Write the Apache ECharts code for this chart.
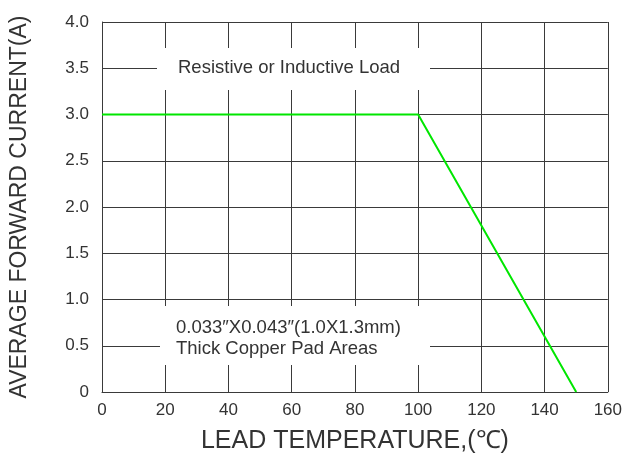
<!DOCTYPE html>
<html>
<head>
<meta charset="utf-8">
<script src="https://cdn.jsdelivr.net/npm/echarts@6/dist/echarts.min.js"></script>
<style>
  html, body { margin: 0; padding: 0; background: #fff; }
  #chart { width: 625px; height: 459px; }
</style>
</head>
<body>
<div id="chart"></div>
<script>
// derating curve: lead temperature (C) vs average forward current (A)
const temps = [0, 100, 150]
const currents = [3.0, 3.0, 0]
const xTicks = [0, 20, 40, 60, 80, 100, 120, 140, 160]
const yTicks = [0, 0.5, 1.0, 1.5, 2.0, 2.5, 3.0, 3.5, 4.0]

const font = 'Liberation Sans, Arial, sans-serif'
const ink = '#333'
const gridColor = '#3a3a3a'

let myChart = echarts.init(document.getElementById('chart'))
let option = {
  animation: false,
  grid: { left: 101, right: 17, top: 22, bottom: 67 },
  xAxis: {
    type: 'value',
    min: xTicks[0], max: xTicks[xTicks.length - 1], interval: 20,
    name: 'LEAD TEMPERATURE,(℃)',
    nameLocation: 'middle',
    nameGap: 37,
    nameTextStyle: { fontFamily: font, fontSize: 25, color: ink },
    axisLine: { lineStyle: { color: gridColor, width: 1 } },
    axisTick: { show: false },
    axisLabel: { fontFamily: font, fontSize: 17, color: ink, margin: 10 },
    splitLine: { show: true, lineStyle: { color: gridColor, width: 1 } }
  },
  yAxis: {
    type: 'value',
    min: yTicks[0], max: yTicks[yTicks.length - 1], interval: 0.5,
    name: 'AVERAGE FORWARD CURRENT(A)',
    nameLocation: 'middle',
    nameGap: 71,
    nameTextStyle: { fontFamily: font, fontSize: 23, color: ink },
    axisLine: { show: true, lineStyle: { color: gridColor, width: 1 } },
    axisTick: { show: false },
    axisLabel: {
      fontFamily: font, fontSize: 17, color: ink, margin: 13,
      formatter: v => v === 0 ? '0' : v.toFixed(1)
    },
    splitLine: { show: true, lineStyle: { color: gridColor, width: 1 } }
  },
  series: [{
    type: 'line',
    data: temps.map((t, i) => [t, currents[i]]),
    symbol: 'none',
    lineStyle: { color: '#00e600', width: 2 },
    z: 3
  }],
  graphic: [
    {
      type: 'rect', z: 10,
      shape: { x: 157, y: 48, width: 273, height: 42 },
      style: { fill: '#fff' }
    },
    {
      type: 'text', z: 11, left: 178, top: 58,
      style: { text: 'Resistive or Inductive Load', font: '18.5px ' + font, fill: ink }
    },
    {
      type: 'rect', z: 10,
      shape: { x: 160, y: 306, width: 270, height: 59 },
      style: { fill: '#fff' }
    },
    {
      type: 'text', z: 11, left: 176, top: 317,
      style: {
        text: '0.033″X0.043″(1.0X1.3mm)\nThick Copper Pad Areas',
        font: '18.5px ' + font, fill: ink, lineHeight: 21
      }
    }
  ]
}
myChart.setOption(option)
</script>
</body>
</html>
